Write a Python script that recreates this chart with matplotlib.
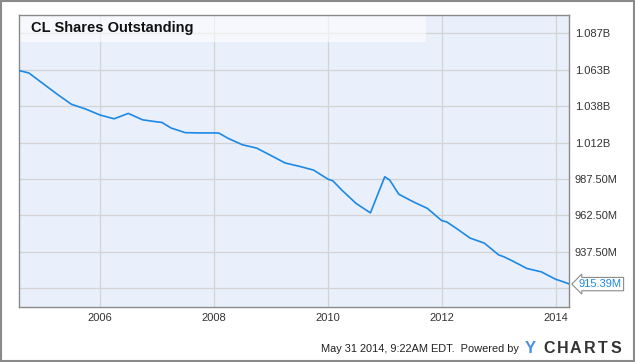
import matplotlib
matplotlib.use("Agg")
import matplotlib.pyplot as plt
import matplotlib.dates as mdates
from matplotlib.patches import Rectangle
import pandas as pd

# shares outstanding (millions)
dates = ["2004-06-30", "2004-09-30", "2004-12-31", "2005-03-31", "2005-06-30",
         "2005-09-30", "2005-12-31", "2006-03-31", "2006-06-30", "2006-09-30",
         "2006-12-31", "2007-02-01", "2007-03-31", "2007-06-30", "2007-09-30",
         "2007-12-31", "2008-02-01", "2008-03-31", "2008-06-30", "2008-09-30",
         "2008-12-31", "2009-03-31", "2009-06-30", "2009-09-30", "2009-12-31",
         "2010-02-01", "2010-03-31", "2010-06-30", "2010-09-30", "2010-12-31",
         "2011-02-01", "2011-03-31", "2011-06-30", "2011-09-30", "2011-12-31",
         "2012-02-01", "2012-03-31", "2012-06-30", "2012-09-30", "2012-12-31",
         "2013-02-01", "2013-03-31", "2013-06-30", "2013-09-30", "2013-12-31",
         "2014-02-01", "2014-03-31"]
shares = [1062.8, 1060.4, 1053.0, 1045.8, 1038.9,
          1035.6, 1031.5, 1028.9, 1032.6, 1028.2,
          1026.8, 1026.4, 1022.6, 1019.4, 1019.2,
          1019.2, 1019.1, 1015.5, 1011.1, 1008.8,
          1003.7, 998.6, 996.3, 993.7, 987.5,
          986.3, 979.9, 970.8, 964.3, 989.1,
          986.8, 977.1, 972.0, 967.4, 959.0,
          958.1, 953.9, 947.0, 943.5, 935.4,
          934.2, 931.2, 926.1, 923.8, 918.7,
          917.6, 915.39]

y_ticks = [912.5, 937.5, 962.5, 987.5, 1012.5, 1037.5, 1062.5, 1087.5]
y_labels = ["", "937.50M", "962.50M", "987.50M", "1.012B", "1.038B", "1.063B", "1.087B"]
x_ticks = ["2006-01-01", "2008-01-01", "2010-01-01", "2012-01-01", "2014-01-01"]
last_label = "915.39M"

plt.rcParams['font.family'] = ['Liberation Sans', 'DejaVu Sans']

fig = plt.figure(figsize=(6.35, 3.62), dpi=100)
ax = fig.add_axes([0.0304, 0.1533, 0.866, 0.8045])

x = pd.to_datetime(dates)
ax.set_facecolor("#e9f0fb")
ax.plot(x, shares, color="#1e88e5", lw=1.2, zorder=3)

ax.set_xlim(pd.Timestamp("2004-07-31"), pd.Timestamp("2014-03-28"))
ax.set_ylim(900, 1100)

ax.set_xticks(pd.to_datetime(x_ticks))
ax.xaxis.set_major_formatter(mdates.DateFormatter("%Y"))
ax.set_yticks(y_ticks)
ax.set_yticklabels(y_labels)
ax.yaxis.tick_right()
ax.tick_params(axis="both", length=0, labelsize=8, colors="#333333")
ax.tick_params(axis="x", pad=5)
ax.tick_params(axis="y", pad=4)
ax.grid(True, color="#d3d3d3", lw=0.9)
ax.set_axisbelow(True)
for s in ax.spines.values():
    s.set_color("#8a8a8a")
    s.set_linewidth(1.0)

# title band
ax.add_patch(Rectangle((0, 0.909), 0.739, 0.091, transform=ax.transAxes,
                       facecolor="white", alpha=0.6, lw=0, zorder=2))
ax.text(0.021, 0.957, "CL Shares Outstanding", transform=ax.transAxes,
        fontsize=10.5, fontweight="bold", color="#111111", va="center", zorder=4)

# last value tag
ax.annotate(last_label, xy=(1.0, shares[-1]), xycoords=("axes fraction", "data"),
            xytext=(7, 0), textcoords="offset points", va="center", ha="left",
            fontsize=8, color="#1e88e5", annotation_clip=False,
            bbox=dict(boxstyle="larrow,pad=0.15", fc="white", ec="#8a8a8a", lw=0.8))

# footer
fig.text(0.817, 0.036, "May 31 2014, 9:22AM EDT.  Powered by", ha="right", va="center",
         fontsize=7.9, color="#222222")
fig.text(0.826, 0.036, "Y", ha="left", va="center", fontsize=12, fontweight="bold",
         color="#4a90e2")
for i, ch in enumerate("CHARTS"):
    fig.text(0.8646 + i * 0.0211, 0.036, ch, ha="center", va="center", fontsize=11.5,
             fontweight="bold", color="#333333")

fig.patches.append(Rectangle((0.001, 0.002), 0.997, 0.995, transform=fig.transFigure,
                             fill=False, ec="#8a8a8a", lw=1.5))

fig.savefig("out.png", dpi=100)
